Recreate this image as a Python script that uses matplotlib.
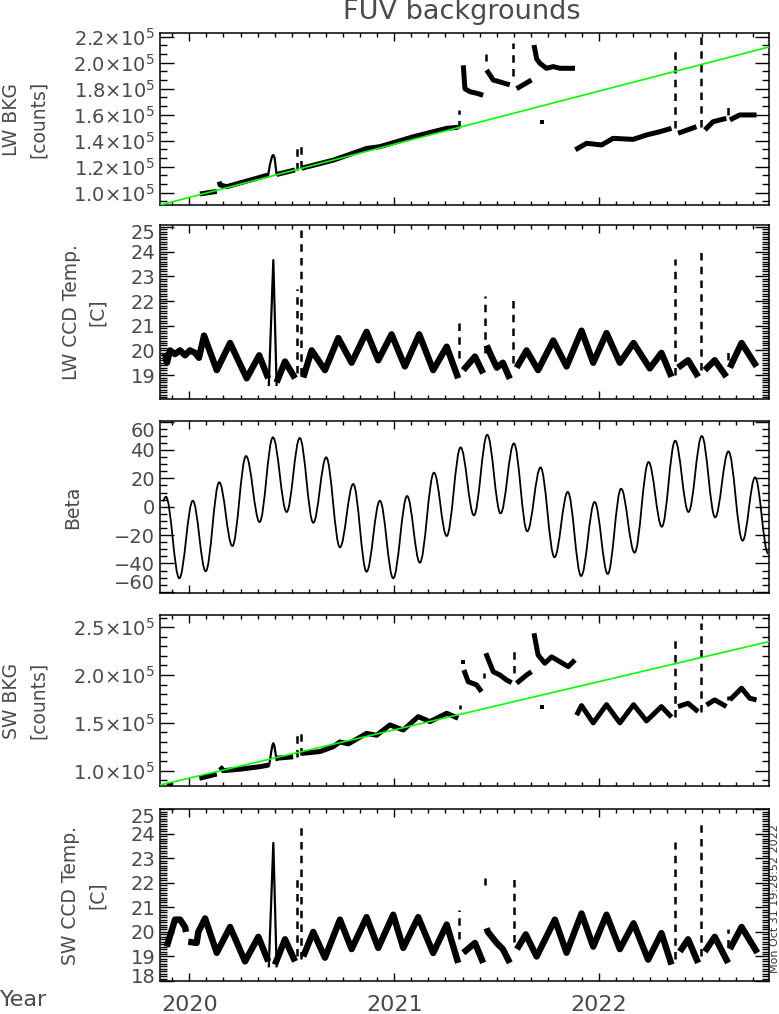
import numpy as np
import matplotlib
matplotlib.use('Agg')
import matplotlib.pyplot as plt
from matplotlib.ticker import MultipleLocator, FixedLocator, FuncFormatter
from matplotlib.path import Path
from matplotlib.patches import PathPatch
from matplotlib.transforms import ScaledTranslation

plt.rcParams['font.family'] = ['DejaVu Sans']
plt.rcParams['mathtext.default'] = 'regular'

nan = np.nan
TXT = '#4a4a4a'

# ---- time axis (decimal year) ----
x_range = [2019.857, 2022.829]
year_ticks = [2020, 2021, 2022]

# ---- LW background, units of 1e5 counts ----
lw_bkg_t = [2020.052, 2020.134, nan,
            2020.146, 2020.150, 2020.182, 2020.385, nan,
            2020.426, 2020.516, nan,
            2020.548, 2020.702, 2020.865, 2020.930, 2021.093, 2021.256, 2021.312, nan,
            2021.337, 2021.345, 2021.369, 2021.402, 2021.434, nan,
            2021.451, 2021.483, 2021.564, nan,
            2021.597, 2021.670, nan,
            2021.682, 2021.695, 2021.711, 2021.743, 2021.776, 2021.808, 2021.882, nan,
            2021.884, 2021.939, 2022.012, 2022.068, 2022.166, 2022.231, 2022.296, 2022.353, nan,
            2022.385, 2022.475, nan,
            2022.516, 2022.556, 2022.621, nan,
            2022.638, 2022.686, 2022.768]
lw_bkg_v = [0.99, 1.01, nan,
            1.085, 1.06, 1.046, 1.136, nan,
            1.14, 1.175, nan,
            1.188, 1.25, 1.34, 1.354, 1.43, 1.495, 1.503, nan,
            1.98, 1.80, 1.777, 1.765, 1.75, nan,
            1.944, 1.867, 1.83, nan,
            1.80, 1.867, nan,
            2.136, 2.03, 1.995, 1.957, 1.97, 1.957, 1.957, nan,
            1.33, 1.38, 1.367, 1.418, 1.41, 1.444, 1.469, 1.495, nan,
            1.457, 1.508, nan,
            1.483, 1.546, 1.572, nan,
            1.56, 1.598, 1.598]
lw_bump_t = [2020.385, 2020.394, 2020.404, 2020.410, 2020.416, 2020.426]
lw_bump_v = [1.136, 1.22, 1.28, 1.29, 1.27, 1.14]
lw_bkg_spike_t = [2020.524, 2020.545, 2021.317, 2021.447, 2021.580, 2022.369, 2022.498, 2022.629]
lw_bkg_spike_lo = [1.175, 1.19, 1.50, 2.01, 1.90, 1.495, 1.508, 1.60]
lw_bkg_spike_hi = [1.385, 1.38, 1.635, 2.07, 2.15, 2.123, 2.226, 1.69]
lw_bkg_dot_t = [2021.719]
lw_bkg_dot_v = [1.54]
lw_fit_v = [0.905, 2.121]

# ---- LW CCD temperature [C] ----
lw_temp_t = [2019.881, 2019.891, 2019.906, 2019.930, 2019.955, 2019.979, 2020.003, 2020.028, 2020.047,
             2020.072, 2020.134, 2020.199, 2020.280, 2020.341, 2020.385, nan,
             2020.426, 2020.467, 2020.516, nan,
             2020.556, 2020.597, 2020.662, 2020.727, 2020.792, 2020.865, 2020.922, 2020.987,
             2021.052, 2021.122, 2021.190, 2021.256, 2021.312, nan,
             2021.337, 2021.394, 2021.434, nan,
             2021.451, 2021.472, 2021.501, 2021.530, 2021.564, nan,
             2021.597, 2021.646, 2021.702, 2021.776, 2021.841, 2021.914, 2021.971, 2022.036,
             2022.101, 2022.168, 2022.247, 2022.304, 2022.353, nan,
             2022.385, 2022.434, 2022.483, nan,
             2022.516, 2022.564, 2022.621, nan,
             2022.638, 2022.695, 2022.768]
lw_temp_v = [19.9, 19.5, 20.0, 19.85, 20.0, 19.8, 20.0, 19.9, 19.7,
             20.6, 19.2, 20.3, 18.87, 19.8, 18.87, nan,
             18.7, 19.55, 18.87, nan,
             18.9, 20.0, 19.2, 20.5, 19.5, 20.75, 19.6, 20.65,
             19.35, 20.65, 19.2, 20.15, 18.87, nan,
             19.2, 19.75, 19.07, nan,
             20.2, 19.8, 19.3, 19.5, 18.85, nan,
             19.3, 20.0, 19.2, 20.4, 19.35, 20.8, 19.5, 20.7,
             19.5, 20.3, 19.27, 19.9, 18.93, nan,
             19.3, 19.6, 18.93, nan,
             19.2, 19.6, 18.93, nan,
             19.3, 20.3, 19.35]
lw_temp_peak_t = [2020.388, 2020.410, 2020.426]
lw_temp_peak_v = [18.6, 23.66, 18.6]
lw_temp_spike_t = [2020.524, 2020.545, 2021.317, 2021.442, 2021.580, 2022.369, 2022.498, 2022.629]
lw_temp_spike_lo = [19.1, 19.0, 19.7, 19.9, 19.5, 19.0, 19.2, 19.6]
lw_temp_spike_hi = [22.5, 24.9, 21.1, 22.2, 22.2, 23.7, 24.0, 20.1]

# ---- beta angle [deg], turning points ----
beta_t = [2019.870, 2019.886, 2019.951, 2020.017, 2020.080, 2020.146, 2020.210, 2020.277,
          2020.343, 2020.408, 2020.475, 2020.539, 2020.605, 2020.668, 2020.735, 2020.800,
          2020.865, 2020.930, 2020.995, 2021.063, 2021.125, 2021.194, 2021.256, 2021.324,
          2021.389, 2021.454, 2021.519, 2021.584, 2021.649, 2021.714, 2021.782, 2021.847,
          2021.912, 2021.978, 2022.042, 2022.107, 2022.173, 2022.241, 2022.306, 2022.371,
          2022.436, 2022.501, 2022.566, 2022.631, 2022.700, 2022.761, 2022.825]
beta_v = [4, 7, -50.4, 4.2, -45.5, 17.2, -27.7, 35.7,
          -10.8, 48.9, -3.7, 48.4, -11.3, 34.8, -28.6, 16,
          -45.8, 4.2, -50.4, 7.5, -39.4, 24, -20.6, 41.8,
          -6.1, 50.7, -4.7, 44.6, -17.3, 27.7, -35.6, 10.4,
          -48.8, 3.3, -47.4, 12.7, -32.4, 31.5, -14.1, 46.5,
          -3.7, 49.8, -7.5, 39, -23.9, 20.7, -33]

# ---- SW background, units of 1e5 counts ----
sw_bkg_t = [2019.890, 2019.920, nan,
            2020.049, 2020.134, nan,
            2020.150, 2020.166, 2020.247, 2020.345, 2020.390, nan,
            2020.426, 2020.507, nan,
            2020.548, 2020.638, 2020.702, 2020.735, 2020.776, 2020.865, 2020.914, 2020.979,
            2021.044, 2021.117, 2021.174, 2021.256, 2021.312, nan,
            2021.340, 2021.361, 2021.402, 2021.426, nan,
            2021.447, 2021.483, 2021.516, 2021.548, 2021.573, nan,
            2021.597, 2021.646, 2021.670, nan,
            2021.682, 2021.702, 2021.735, 2021.768, 2021.808, 2021.849, 2021.882, nan,
            2021.890, 2021.914, 2021.971, 2022.036, 2022.101, 2022.168, 2022.231, 2022.304, 2022.353, nan,
            2022.385, 2022.434, 2022.483, nan,
            2022.524, 2022.564, 2022.621, nan,
            2022.638, 2022.695, 2022.735, 2022.768]
sw_bkg_v = [0.85, 0.85, nan,
            0.92, 0.965, nan,
            1.042, 1.0, 1.015, 1.042, 1.06, nan,
            1.13, 1.145, nan,
            1.18, 1.20, 1.25, 1.30, 1.28, 1.39, 1.37, 1.478,
            1.425, 1.565, 1.513, 1.60, 1.548, nan,
            2.053, 1.93, 1.897, 1.826, nan,
            2.228, 2.035, 2.0, 1.948, 1.92, nan,
            1.914, 2.0, 2.035, nan,
            2.437, 2.21, 2.123, 2.19, 2.14, 2.088, 2.158, nan,
            1.58, 1.68, 1.50, 1.69, 1.50, 1.69, 1.52, 1.67, 1.56, nan,
            1.67, 1.705, 1.617, nan,
            1.687, 1.74, 1.67, nan,
            1.74, 1.862, 1.757, 1.74]
sw_bump_t = [2020.390, 2020.400, 2020.406, 2020.410, 2020.415, 2020.426]
sw_bump_v = [1.06, 1.20, 1.27, 1.287, 1.26, 1.112]
sw_bkg_spike_t = [2020.527, 2020.545, 2021.320, 2021.439, 2021.585, 2022.369, 2022.498, 2022.629]
sw_bkg_spike_lo = [1.145, 1.16, 1.65, 1.97, 2.02, 1.565, 1.617, 1.74]
sw_bkg_spike_hi = [1.418, 1.40, 1.69, 2.02, 2.26, 2.385, 2.54, 1.78]
sw_bkg_dot_t = [2021.337, 2021.720]
sw_bkg_dot_v = [2.14, 1.663]
sw_fit_v = [0.85, 2.35]

# ---- SW CCD temperature [C] ----
sw_temp_t = [2019.890, 2019.930, 2019.955, 2019.979, 2019.984, nan,
             2019.995, 2020.036, 2020.044, 2020.077, 2020.134, 2020.199, 2020.272, 2020.337, 2020.385, nan,
             2020.418, 2020.467, 2020.516, nan,
             2020.556, 2020.605, 2020.662, 2020.735, 2020.792, 2020.865, 2020.922, 2020.995,
             2021.044, 2021.117, 2021.190, 2021.256, 2021.312, nan,
             2021.337, 2021.394, 2021.434, nan,
             2021.451, 2021.457, 2021.500, 2021.530, 2021.564, nan,
             2021.599, 2021.642, 2021.677, 2021.695, 2021.784, 2021.841, 2021.914, 2021.971,
             2022.036, 2022.101, 2022.168, 2022.239, 2022.304, 2022.353, nan,
             2022.394, 2022.434, 2022.483, nan,
             2022.516, 2022.564, 2022.629, nan,
             2022.638, 2022.695, 2022.772]
sw_temp_v = [19.4, 20.5, 20.5, 20.2, 20.0, nan,
             19.6, 19.55, 20.0, 20.55, 19.15, 20.2, 18.8, 19.8, 18.8, nan,
             18.67, 19.7, 18.8, nan,
             19.0, 20.0, 18.95, 20.5, 19.3, 20.6, 19.35, 20.7,
             19.35, 20.6, 19.14, 20.3, 18.74, nan,
             19.15, 19.55, 18.74, nan,
             20.15, 20.0, 19.55, 19.3, 18.74, nan,
             19.3, 19.9, 19.3, 19.0, 20.5, 19.15, 20.75, 19.4,
             20.7, 19.3, 20.35, 18.87, 19.95, 18.67, nan,
             19.2, 19.7, 18.74, nan,
             19.2, 19.8, 18.74, nan,
             19.3, 20.2, 19.15]
sw_temp_peak_t = [2020.388, 2020.410, 2020.426]
sw_temp_peak_v = [18.6, 23.62, 18.6]
sw_temp_spike_t = [2020.524, 2020.545, 2021.317, 2021.442, 2021.585, 2022.369, 2022.498, 2022.629]
sw_temp_spike_lo = [19.0, 18.9, 19.7, 21.9, 19.6, 18.9, 19.0, 19.4]
sw_temp_spike_hi = [22.2, 24.3, 20.9, 22.2, 22.2, 23.66, 24.5, 20.1]


def style_axes(ax, bottom_labels=False):
    for s in ax.spines.values():
        s.set_linewidth(1.1)
    ax.set_xlim(x_range)
    ax.xaxis.set_major_locator(FixedLocator(year_ticks))
    ax.xaxis.set_minor_locator(MultipleLocator(1 / 12))
    ax.tick_params(axis='both', which='both', direction='in', top=True, right=True,
                   colors='k', labelcolor=TXT, width=1.0)
    ax.tick_params(axis='x', which='major', length=6)
    ax.tick_params(axis='x', which='minor', length=3)
    ax.tick_params(axis='y', which='major', length=10, labelsize=14)
    ax.tick_params(axis='y', which='minor', length=5)
    if bottom_labels:
        ax.xaxis.set_major_formatter(FuncFormatter(lambda v, p: '%d' % v))
        ax.tick_params(axis='x', labelsize=16, pad=10)
    else:
        ax.tick_params(axis='x', labelbottom=False)


def side_label(ax, text, xpos):
    ax.text(xpos, 0.5, text, transform=ax.transAxes, rotation=90, ha='center', va='center',
            multialignment='center', fontsize=13.5, color=TXT, linespacing=1.5)


def shift_edge_labels(ax, fig, top_dy, bot_dy):
    ticks = ax.yaxis.get_major_ticks()
    ticks[-1].label1.set_transform(ticks[-1].label1.get_transform() +
                                   ScaledTranslation(0, -top_dy / 100, fig.dpi_scale_trans))
    ticks[0].label1.set_transform(ticks[0].label1.get_transform() +
                                  ScaledTranslation(0, bot_dy / 100, fig.dpi_scale_trans))


def bkg_fmt(v, p):
    return r'$%.1f{\times}10^{5}$' % v


fig = plt.figure(figsize=(7.79, 10.14), dpi=100)
left, width = 0.2054, 0.7818
ax1 = fig.add_axes([left, 0.7978, width, 0.1696])
ax2 = fig.add_axes([left, 0.6065, width, 0.1716])
ax3 = fig.add_axes([left, 0.4152, width, 0.1696])
ax4 = fig.add_axes([left, 0.2249, width, 0.1686])
ax5 = fig.add_axes([left, 0.0325, width, 0.1696])

band_kw = dict(color='k', solid_joinstyle='round', solid_capstyle='butt')
spike_kw = dict(colors='k', linestyles=(0, (3, 2.5)), linewidth=1.8)

# panel 1: LW BKG
ax1.plot(x_range, lw_fit_v, color='#00ff00', lw=1.2, zorder=3)
ax1.plot(lw_bkg_t, lw_bkg_v, lw=3.6, **band_kw)
ax1.plot(lw_bump_t, lw_bump_v, color='k', lw=1.6)
ax1.vlines(lw_bkg_spike_t, lw_bkg_spike_lo, lw_bkg_spike_hi, **spike_kw)
ax1.plot(lw_bkg_dot_t, lw_bkg_dot_v, 's', color='k', ms=2.2, mew=0)
ax1.set_ylim(0.905, 2.228)
ax1.yaxis.set_major_locator(FixedLocator([1.0, 1.2, 1.4, 1.6, 1.8, 2.0, 2.2]))
ax1.yaxis.set_minor_locator(MultipleLocator(0.2 / 3))
ax1.yaxis.set_major_formatter(FuncFormatter(bkg_fmt))
style_axes(ax1)
side_label(ax1, 'LW BKG\n[counts]', -0.222)

# panel 2: LW CCD temp
ax2.plot(lw_temp_t, lw_temp_v, lw=4.6, **band_kw)
ax2.plot(lw_temp_peak_t, lw_temp_peak_v, color='k', lw=1.6)
ax2.vlines(lw_temp_spike_t, lw_temp_spike_lo, lw_temp_spike_hi, **spike_kw)
ax2.set_ylim(18.03, 25.08)
ax2.yaxis.set_major_locator(FixedLocator(list(range(18, 26))))
ax2.yaxis.set_minor_locator(MultipleLocator(0.1))
style_axes(ax2)
shift_edge_labels(ax2, fig, 5, 6)
side_label(ax2, 'LW CCD Temp.\n[C]', -0.124)

# panel 3: beta
verts = [(beta_t[0], beta_v[0])]
codes = [Path.MOVETO]
for i in range(1, len(beta_t)):
    dt = beta_t[i] - beta_t[i - 1]
    verts += [(beta_t[i - 1] + 0.364 * dt, beta_v[i - 1]),
              (beta_t[i] - 0.364 * dt, beta_v[i]),
              (beta_t[i], beta_v[i])]
    codes += [Path.CURVE4] * 3
ax3.add_patch(PathPatch(Path(verts, codes), facecolor='none', edgecolor='k', lw=1.3))
ax3.set_ylim(-60.8, 60.4)
ax3.yaxis.set_major_locator(FixedLocator([-60, -40, -20, 0, 20, 40, 60]))
ax3.yaxis.set_minor_locator(MultipleLocator(5))
style_axes(ax3)
shift_edge_labels(ax3, fig, 8, 10)
side_label(ax3, 'Beta', -0.143)

# panel 4: SW BKG
ax4.plot(x_range, sw_fit_v, color='#00ff00', lw=1.2, zorder=3)
ax4.plot(sw_bkg_t, sw_bkg_v, lw=3.6, **band_kw)
ax4.plot(sw_bump_t, sw_bump_v, color='k', lw=1.6)
ax4.vlines(sw_bkg_spike_t, sw_bkg_spike_lo, sw_bkg_spike_hi, **spike_kw)
ax4.plot(sw_bkg_dot_t, sw_bkg_dot_v, 's', color='k', ms=2.2, mew=0)
ax4.set_ylim(0.84, 2.628)
ax4.yaxis.set_major_locator(FixedLocator([1.0, 1.5, 2.0, 2.5]))
ax4.yaxis.set_minor_locator(MultipleLocator(0.1))
ax4.yaxis.set_major_formatter(FuncFormatter(bkg_fmt))
style_axes(ax4)
side_label(ax4, 'SW BKG\n[counts]', -0.222)

# panel 5: SW CCD temp
ax5.plot(sw_temp_t, sw_temp_v, lw=4.6, **band_kw)
ax5.plot(sw_temp_peak_t, sw_temp_peak_v, color='k', lw=1.6)
ax5.vlines(sw_temp_spike_t, sw_temp_spike_lo, sw_temp_spike_hi, **spike_kw)
ax5.set_ylim(18.0, 25.0)
ax5.yaxis.set_major_locator(FixedLocator(list(range(18, 26))))
ax5.yaxis.set_minor_locator(MultipleLocator(0.1))
style_axes(ax5, bottom_labels=True)
shift_edge_labels(ax5, fig, 6, 6)
side_label(ax5, 'SW CCD Temp.\n[C]', -0.125)

fig.text(0.5924, 0.988, 'FUV backgrounds', ha='center', va='center', fontsize=19.5, color=TXT)
fig.text(0.0, 0.004, 'Year', ha='left', va='bottom', fontsize=16, color=TXT)
fig.text(0.9949, 0.1134, 'Mon Oct 31 19:28:52 2022', rotation=90, ha='center', va='center',
         fontsize=8, color='#333333')

fig.savefig('out.png', dpi=100)
